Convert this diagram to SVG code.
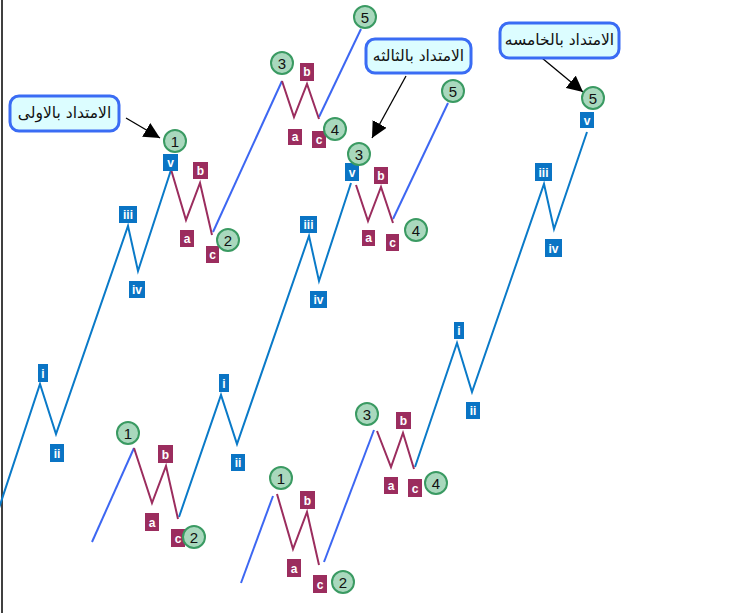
<svg xmlns="http://www.w3.org/2000/svg" width="752" height="613" viewBox="0 0 752 613">
<defs>
<style>
.sub{fill:none;stroke:#0a7ac8;stroke-width:2;stroke-linejoin:miter}
.main{fill:none;stroke:#3d67f2;stroke-width:2}
.cor{fill:none;stroke:#9b2d5e;stroke-width:2}
.bb{fill:#0a74c4}
.mb{fill:#9b2d5e}
.bt{fill:#fff;font-family:"Liberation Sans",Arial,sans-serif;font-weight:bold;font-size:12px;text-anchor:middle}
.circ{fill:#a9d8bd;stroke:#3a9a62;stroke-width:2}
.ct{fill:#111;font-family:"Liberation Sans",Arial,sans-serif;font-size:15px;text-anchor:middle}
.call{fill:#dcfdff;stroke:#3a6cf4;stroke-width:3}
.callt{fill:#111;font-family:"DejaVu Sans","Noto Sans",sans-serif;font-size:15.5px;text-anchor:middle}
.arr{stroke:#000;stroke-width:1.3;fill:none}
</style>
<marker id="ah" markerUnits="userSpaceOnUse" markerWidth="18" markerHeight="16" refX="16" refY="8" orient="auto">
<path d="M0,0 L16,8 L0,16 Z" fill="#000"/>
</marker>
</defs>
<rect width="752" height="613" fill="#fff"/>
<line x1="2" y1="0" x2="2" y2="613" stroke="#000" stroke-width="1.5"/>

<g id="connectors">
<polyline class="sub" points="-2,511 40,384 56,434 128,226 138,271 171,170"/>
<polyline class="sub" points="179,517 221,395 237,444 309,236 319,281 351,183"/>
<polyline class="sub" points="415,467 457,343 472,392 544,184 554,229 587,132"/>
<line class="main" x1="213" y1="232" x2="282" y2="81"/>
<line class="main" x1="319" y1="117" x2="361" y2="29"/>
<line class="main" x1="92" y1="542" x2="134" y2="448"/>
<line class="main" x1="393" y1="219" x2="448" y2="103"/>
<line class="main" x1="241" y1="583" x2="273" y2="496"/>
<line class="main" x1="324" y1="562" x2="374" y2="430"/>
<polyline class="cor" points="170,166 186,220 200,183 212,235"/>
<polyline class="cor" points="282,81 294,117 307,84 319,119"/>
<polyline class="cor" points="134,448 152,503 166,466 178,519"/>
<polyline class="cor" points="356,185 368,221 381,187 393,223"/>
<polyline class="cor" points="277,494 293,549 307,512 319,565"/>
<polyline class="cor" points="377,431 391,467 403,433 414,469"/>
<line class="arr" x1="126" y1="118" x2="160" y2="138" marker-end="url(#ah)"/>
<line class="arr" x1="406" y1="76" x2="372" y2="138" marker-end="url(#ah)"/>
<line class="arr" x1="542" y1="58" x2="583" y2="92" marker-end="url(#ah)"/>
</g>

<g id="s1-i"><rect class="bb" x="38" y="364" width="10" height="18"/><text class="bt" x="43" y="378">i</text></g>
<g id="s1-ii"><rect class="bb" x="50" y="444" width="14" height="18"/><text class="bt" x="57" y="458">ii</text></g>
<g id="s1-iii"><rect class="bb" x="119" y="206" width="18" height="17"/><text class="bt" x="128" y="219">iii</text></g>
<g id="s1-iv"><rect class="bb" x="129" y="281" width="16" height="17"/><text class="bt" x="137" y="294">iv</text></g>
<g id="s1-v"><rect class="bb" x="163" y="154" width="15" height="17"/><text class="bt" x="170.5" y="167">v</text></g>

<g id="s2-i"><rect class="bb" x="219" y="374" width="10" height="18"/><text class="bt" x="224" y="388">i</text></g>
<g id="s2-ii"><rect class="bb" x="231" y="454" width="14" height="17"/><text class="bt" x="238" y="467">ii</text></g>
<g id="s2-iii"><rect class="bb" x="300" y="216" width="17" height="17"/><text class="bt" x="308.5" y="229">iii</text></g>
<g id="s2-iv"><rect class="bb" x="310" y="291" width="17" height="17"/><text class="bt" x="318.5" y="304">iv</text></g>
<g id="s2-v"><rect class="bb" x="345" y="163" width="14" height="18"/><text class="bt" x="352" y="177">v</text></g>

<g id="s3-i"><rect class="bb" x="454" y="322" width="10" height="17"/><text class="bt" x="459" y="335">i</text></g>
<g id="s3-ii"><rect class="bb" x="466" y="402" width="14" height="17"/><text class="bt" x="473" y="415">ii</text></g>
<g id="s3-iii"><rect class="bb" x="535" y="163" width="17" height="18"/><text class="bt" x="543.5" y="177">iii</text></g>
<g id="s3-iv"><rect class="bb" x="545" y="239" width="17" height="18"/><text class="bt" x="553.5" y="253">iv</text></g>
<g id="s3-v"><rect class="bb" x="580" y="112" width="14" height="16"/><text class="bt" x="587" y="125">v</text></g>

<g id="c1-a"><rect class="mb" x="180" y="230" width="14" height="17"/><text class="bt" x="187" y="243">a</text></g>
<g id="c1-b"><rect class="mb" x="193" y="162" width="15" height="17"/><text class="bt" x="200.5" y="175">b</text></g>
<g id="c1-c"><rect class="mb" x="206" y="246" width="13" height="17"/><text class="bt" x="212.5" y="259">c</text></g>
<g id="c2-a"><rect class="mb" x="288" y="129" width="14" height="16"/><text class="bt" x="295" y="141">a</text></g>
<g id="c2-b"><rect class="mb" x="300" y="63" width="14" height="18"/><text class="bt" x="307" y="76">b</text></g>
<g id="c2-c"><rect class="mb" x="312" y="131" width="14" height="17"/><text class="bt" x="319" y="144">c</text></g>
<g id="c3-a"><rect class="mb" x="145" y="513" width="14" height="18"/><text class="bt" x="152" y="527">a</text></g>
<g id="c3-b"><rect class="mb" x="158" y="445" width="15" height="18"/><text class="bt" x="165.5" y="459">b</text></g>
<g id="c3-c"><rect class="mb" x="171" y="529" width="14" height="18"/><text class="bt" x="178" y="543">c</text></g>
<g id="c4-a"><rect class="mb" x="362" y="230" width="13" height="16"/><text class="bt" x="368.5" y="242">a</text></g>
<g id="c4-b"><rect class="mb" x="374" y="167" width="14" height="17"/><text class="bt" x="381" y="180">b</text></g>
<g id="c4-c"><rect class="mb" x="386" y="234" width="13" height="17"/><text class="bt" x="392.5" y="247">c</text></g>
<g id="c5-a"><rect class="mb" x="287" y="559" width="14" height="18"/><text class="bt" x="294" y="573">a</text></g>
<g id="c5-b"><rect class="mb" x="300" y="491" width="15" height="18"/><text class="bt" x="307.5" y="505">b</text></g>
<g id="c5-c"><rect class="mb" x="313" y="575" width="14" height="18"/><text class="bt" x="320" y="589">c</text></g>
<g id="c6-a"><rect class="mb" x="384" y="477" width="14" height="17"/><text class="bt" x="391" y="490">a</text></g>
<g id="c6-b"><rect class="mb" x="396" y="412" width="15" height="17"/><text class="bt" x="403.5" y="425">b</text></g>
<g id="c6-c"><rect class="mb" x="408" y="479" width="14" height="18"/><text class="bt" x="415" y="493">c</text></g>

<g id="w1-1"><circle class="circ" cx="175" cy="141" r="11"/><text class="ct" x="175" y="146.5">1</text></g>
<g id="w1-2"><circle class="circ" cx="228" cy="240" r="11"/><text class="ct" x="228" y="245.5">2</text></g>
<g id="w1-3"><circle class="circ" cx="282" cy="63" r="11"/><text class="ct" x="282" y="68.5">3</text></g>
<g id="w1-4"><circle class="circ" cx="335" cy="129" r="11"/><text class="ct" x="335" y="134.5">4</text></g>
<g id="w1-5"><circle class="circ" cx="365" cy="17" r="11"/><text class="ct" x="365" y="22.5">5</text></g>
<g id="w2-1"><circle class="circ" cx="128" cy="433" r="11"/><text class="ct" x="128" y="438.5">1</text></g>
<g id="w2-2"><circle class="circ" cx="194" cy="537" r="11"/><text class="ct" x="194" y="542.5">2</text></g>
<g id="w2-3"><circle class="circ" cx="359" cy="154" r="11"/><text class="ct" x="359" y="159.5">3</text></g>
<g id="w2-4"><circle class="circ" cx="416" cy="230" r="11"/><text class="ct" x="416" y="235.5">4</text></g>
<g id="w2-5"><circle class="circ" cx="453" cy="91" r="11"/><text class="ct" x="453" y="96.5">5</text></g>
<g id="w3-1"><circle class="circ" cx="281" cy="478" r="11"/><text class="ct" x="281" y="483.5">1</text></g>
<g id="w3-2"><circle class="circ" cx="343" cy="582" r="11"/><text class="ct" x="343" y="587.5">2</text></g>
<g id="w3-3"><circle class="circ" cx="367" cy="414" r="11"/><text class="ct" x="367" y="419.5">3</text></g>
<g id="w3-4"><circle class="circ" cx="436" cy="483" r="11"/><text class="ct" x="436" y="488.5">4</text></g>
<g id="w3-5"><circle class="circ" cx="593" cy="98" r="11"/><text class="ct" x="593" y="103.5">5</text></g>

<g id="callout-1"><rect class="call" x="10" y="96" width="109" height="35" rx="9"/><text class="callt" x="64.5" y="118">الامتداد بالاولى</text></g>
<g id="callout-3"><rect class="call" x="366" y="39" width="105" height="34" rx="9"/><text class="callt" x="418.5" y="61">الامتداد بالثالثه</text></g>
<g id="callout-5"><rect class="call" x="500" y="23" width="119" height="35" rx="9"/><text class="callt" x="559.5" y="45">الامتداد بالخامسه</text></g>
</svg>
